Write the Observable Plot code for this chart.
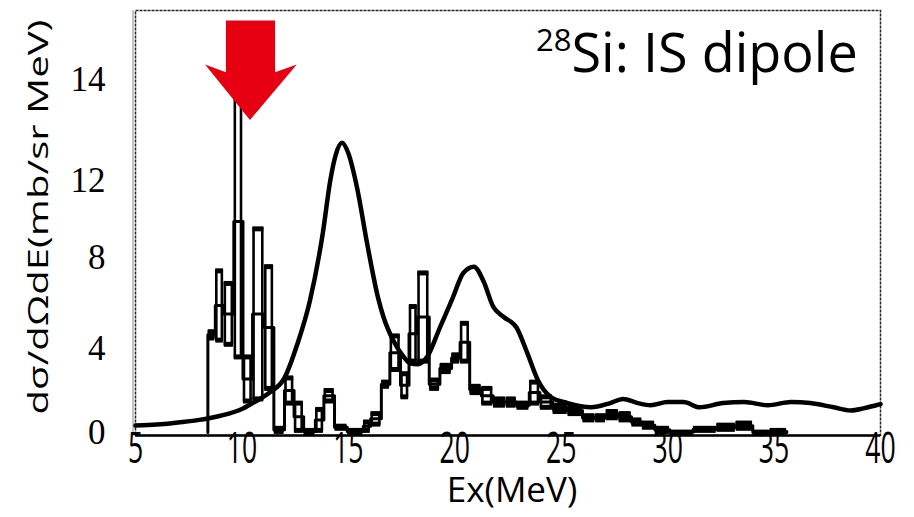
<!DOCTYPE html>
<html>
<head>
<meta charset="utf-8">
<script src="https://cdn.jsdelivr.net/npm/d3@7"></script>
<script src="https://cdn.jsdelivr.net/npm/@observablehq/plot@0.6"></script>
<style>
  html, body { margin: 0; padding: 0; background: #fff; }
  #wrap { position: relative; width: 914px; height: 517px; overflow: hidden; }
  #title { position: absolute; left: 536px; top: 24px; font-family: "Open Sans", sans-serif; font-size: 54px; color: #000; white-space: nowrap; line-height: 1; }
  #title sup { font-size: 31px; vertical-align: 0; position: relative; top: -21px; }
</style>
</head>
<body>
<div id="wrap"><div id="title"><sup>28</sup>Si: IS dipole</div></div>
<script>
// ---- tick labels ----
const xTickValues = [5, 10, 15, 20, 25, 30, 35, 40];
const yTickValues = [0, 4, 8.3, 12, 16.8];
const yTickLabels = ["0", "4", "8", "12", "14"];
const xLabel = "Ex(MeV)";
const yLabel = "dσ/dΩdE(mb/sr MeV)";

// ---- experimental histogram: bin edges, error-bar low / high (mb/sr MeV) ----
const binEdges = [8.40, 8.75, 9.15, 9.62, 10.05, 10.50, 11.05, 11.50, 12.00, 12.45, 12.90, 13.45, 13.85, 14.35, 14.95, 15.70,
  16.05, 16.55, 16.95, 17.45, 17.85, 18.25, 18.80, 19.30, 19.85, 20.25, 20.70, 21.25, 21.80, 22.40, 22.90, 23.50, 24.00,
  24.60, 25.30, 26.00, 26.60, 27.10, 27.70, 28.30, 28.80, 29.40, 30.10, 31.20, 32.30, 33.20, 34.00, 34.80, 35.60];
const binLow = [4.5, 4.4, 4.2, 3.6, 1.5, 1.6, 2.1, 0.05, 1.4, 0.1, 0.0, 0.1, 1.5, 0.2, 0.0, 0.1,
  0.4, 2.2, 3.0, 1.7, 3.4, 3.4, 2.1, 2.9, 3.4, 3.4, 1.9, 1.4, 1.3, 1.3, 1.2, 1.4,
  1.2, 1.0, 0.9, 0.6, 0.6, 0.7, 0.6, 0.4, 0.25, 0.05, 0.0, 0.1, 0.15, 0.2, 0.0, 0.0];
const binHigh = [4.8, 7.7, 7.1, 16.5, 3.6, 9.7, 7.9, 0.2, 2.6, 1.4, 0.1, 1.1, 2.0, 0.3, 0.1, 0.5,
  0.9, 2.4, 4.6, 2.8, 6.0, 7.6, 2.5, 3.2, 3.7, 5.2, 2.2, 2.1, 1.6, 1.6, 1.4, 2.4,
  1.7, 1.3, 1.2, 0.8, 0.8, 1.0, 0.9, 0.6, 0.45, 0.2, 0.02, 0.2, 0.35, 0.45, 0.02, 0.1];

// ---- theoretical curve ----
const theoryE = [5.0, 6.0, 7.0, 8.0, 8.4, 9.0, 10.0, 10.5, 11.3, 12.0, 12.6, 13.2, 13.8, 14.15, 14.4, 14.7, 15.0, 15.4,
  15.9, 16.4, 16.65, 17.1, 17.6, 17.9, 18.25, 18.7, 19.3, 19.9, 20.4, 20.9, 21.35, 21.8, 22.3, 22.9, 23.4, 23.9,
  24.5, 25.3, 26.4, 27.3, 27.9, 28.6, 29.2, 30.0, 30.75, 31.5, 32.6, 33.6, 34.7, 35.8, 36.7, 37.8, 38.6, 39.2, 39.8, 40.0];
const theoryS = [0.33, 0.38, 0.48, 0.6, 0.67, 0.8, 1.12, 1.4, 1.9, 2.6, 4.2, 6.3, 9.5, 12.0, 13.2, 13.8, 13.3, 11.7,
  8.9, 6.4, 5.5, 4.4, 3.6, 3.3, 3.25, 3.6, 5.0, 6.4, 7.6, 7.9, 7.2, 6.0, 5.5, 5.0, 3.8, 2.5,
  1.7, 1.4, 1.2, 1.4, 1.6, 1.4, 1.3, 1.45, 1.45, 1.2, 1.4, 1.45, 1.3, 1.45, 1.4, 1.2, 1.05, 1.15, 1.3, 1.35];

// ---- red arrow annotation (tip, wing, shaft join, shaft top) ----
const arrowY  = [14.86, 17.5, 17.14, 19.6];
const arrowX1 = [10.40, 8.29, 9.27, 9.27];
const arrowX2 = [10.40, 12.60, 11.58, 11.58];

// ---- build tables ----
const bins = binLow.map((lo, i) => ({e0: binEdges[i], e1: binEdges[i + 1], lo, hi: binHigh[i], v: (lo + binHigh[i]) / 2}));
const stepPts = [{x: binEdges[0], y: 0}, ...bins.map(b => ({x: b.e0, y: b.v})), {x: binEdges[binEdges.length - 1], y: 0}];
const theory = theoryE.map((e, i) => ({e, s: theoryS[i]}));
const arrow = arrowY.map((y, i) => ({y, x1: arrowX1[i], x2: arrowX2[i]}));

const inset = 0.07;
const chart = Plot.plot({
  width: 914, height: 517,
  marginLeft: 135, marginRight: 34, marginTop: 10, marginBottom: 82,
  x: {domain: [5, 40], axis: null},
  y: {domain: [-0.143, 20.1], axis: null},
  style: {background: "white"},
  marks: [
    Plot.frame({stroke: "#222", strokeWidth: 1.5, strokeDasharray: "3,1"}),
    Plot.ruleX([5], {stroke: "#888", strokeWidth: 1, dx: -2.5}),
    Plot.ruleY([-0.143], {stroke: "#000", strokeWidth: 2.5}),
    Plot.line(theory, {x: "e", y: "s", curve: "monotone-x", stroke: "#000", strokeWidth: 4.5}),
    Plot.line(stepPts, {x: "x", y: "y", curve: "step-after", stroke: "#000", strokeWidth: 3}),
    Plot.rect(bins, {x1: d => d.e0 + inset, x2: d => d.e1 - inset, y1: "lo", y2: "hi", fill: "none", stroke: "#000", strokeWidth: 2.6}),
    Plot.ruleY(bins, {y: "hi", x1: d => d.e0 + 0.02, x2: d => d.e1 - 0.02, stroke: "#000", strokeWidth: 5}),
    Plot.ruleY(bins, {y: "lo", x1: d => d.e0 + 0.02, x2: d => d.e1 - 0.02, stroke: "#000", strokeWidth: 5}),
    Plot.areaX(arrow, {y: "y", x1: "x1", x2: "x2", fill: "#e60012"}),
    Plot.text(yTickValues, {x: 5, y: d => d, text: (d, i) => yTickLabels[i], dx: -30, textAnchor: "end",
      fontFamily: "Liberation Serif, serif", fontSize: 35, fill: "#000"}),
    Plot.text(xTickValues, {x: d => d, frameAnchor: "bottom", text: d => String(d), dy: 27,
      fontFamily: "Open Sans, sans-serif", fontSize: 38, fill: "#000"}),
    Plot.text([xLabel], {frameAnchor: "bottom", dx: 4, dy: 66, fontFamily: "Open Sans, sans-serif", fontSize: 35, fill: "#000"}),
    Plot.text([yLabel], {frameAnchor: "left", textAnchor: "middle", rotate: -90, dx: -96, dy: -6,
      fontFamily: "Open Sans, sans-serif", fontSize: 28, fill: "#000"})
  ]
});
document.getElementById("wrap").prepend(chart);

// post-process text shapes to mimic the stretched reference typography
const xTickSet = new Set(xTickValues.map(String));
function scaleInPlace(el, sx, sy) {
  const tr = el.getAttribute("transform");
  if (tr) {
    el.setAttribute("transform", `${tr} scale(${sx},${sy})`);
  } else {
    const x = +(el.getAttribute("x") || 0), y = +(el.getAttribute("y") || 0);
    el.setAttribute("transform", `translate(${x},${y}) scale(${sx},${sy}) translate(${-x},${-y})`);
  }
}
chart.querySelectorAll("text").forEach(el => {
  const t = el.textContent;
  if (t === yLabel) {
    const k = 395 / el.getComputedTextLength();
    scaleInPlace(el, k, 1);
  } else if (xTickSet.has(t) && !yTickLabels.includes(t)) {
    scaleInPlace(el, 0.7, 1.15);
  }
});
</script>
</body>
</html>
